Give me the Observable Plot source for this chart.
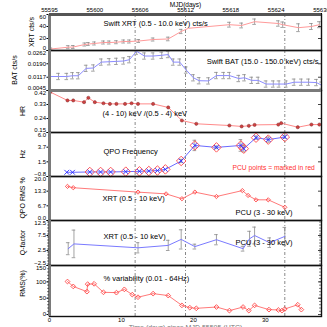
<!DOCTYPE html>
<html><head><meta charset="utf-8">
<script src="https://cdn.jsdelivr.net/npm/d3@7"></script>
<script src="https://cdn.jsdelivr.net/npm/@observablehq/plot@0.6"></script>
<style>
html,body{margin:0;padding:0;background:#fff;overflow:hidden}
#chart{position:relative;width:327px;height:327px;overflow:hidden}
#chart svg{position:absolute;left:0;overflow:visible}
</style></head><body><div id="chart"></div>
<script>
const FONT = "'Liberation Sans', Arial, Helvetica, sans-serif";
// ---- axes ----
const xDomain = [0, 37.8];
const mjdTickDays = [0, 6.3, 12.6, 18.9, 25.2, 31.5, 37.8];
const mjdTickLabels = ["55595","55600","55606","55612","55618","55624","55630"];
const dayTicks = [0, 10, 20, 30];
const markerDays = [11.9, 18.9, 32.7];

// ---- panel 1: Swift XRT count rate ----
const xrtDays = [0.2, 2.6, 3.3, 4.9, 5.4, 6.25, 7.5, 8.3, 9.3, 10.3, 11.1, 12.4, 14.4, 16.5, 18.3, 19.3, 25.0, 26.7, 28.5, 31.8, 32.4, 34.6, 36.4, 37.5];
const xrtVals = [2.5, 5.5, 5.8, 10, 10.8, 11.7, 13.3, 13.3, 13.8, 15, 15, 15.8, 18.3, 19.2, 31.7, 37, 43, 41.7, 48, 45, 43, 38, 40, 43];
const xrtErr  = [1.5, 2.5, 2.5, 2.5, 2.5, 2.5, 2.5, 2.5, 2.5, 2.5, 2.5, 2.5, 2.5, 3, 3.5, 0, 4, 4, 4.5, 4.5, 4.5, 6.5, 5, 5];

// ---- panel 2: Swift BAT count rate ----
const batDays = [0.2, 1.25, 2.4, 3.2, 4.0, 5.1, 6.1, 7.2, 8.3, 9.3, 10.3, 11.1, 12.1, 13.2, 14.4, 15.6, 16.5, 17.2, 18.1, 19.0, 20.0, 20.8, 22.1, 23.2, 24.2, 25.0, 26.3, 27.1, 28.1, 29.0, 30.1, 31.1, 31.9, 32.9, 34.0, 35.0, 36.0, 37.1, 37.8];
const batVals = [0.0121, 0.0121, 0.0121, 0.0125, 0.0125, 0.0165, 0.0167, 0.0199, 0.0201, 0.0203, 0.0205, 0.0212, 0.0258, 0.0232, 0.0232, 0.0236, 0.0240, 0.0199, 0.0199, 0.0156, 0.0114, 0.0098, 0.0097, 0.0126, 0.0126, 0.0126, 0.0110, 0.0114, 0.0100, 0.0100, 0.0080, 0.0080, 0.0080, 0.0080, 0.0090, 0.0090, 0.0090, 0.0088, 0.0074];
const batErr  = [0, 0.0017, 0.0017, 0.0017, 0.0017, 0.0017, 0.0017, 0.0017, 0.0017, 0.0017, 0.0017, 0.0017, 0.0017, 0.0017, 0.0017, 0.0017, 0.0017, 0.0017, 0.0017, 0.0017, 0.0017, 0.0017, 0.0017, 0.0017, 0.0017, 0.0017, 0.0017, 0.0017, 0.0017, 0.0017, 0.0017, 0.0017, 0.0017, 0.0017, 0.0017, 0.0017, 0.0017, 0.0017, 0.0017];

// ---- panel 3: hardness ratio ----
const hrDays = [0.1, 2.5, 3.3, 4.8, 5.4, 6.3, 7.5, 8.4, 9.3, 10.5, 11.4, 12.3, 14.4, 16.5, 18.4, 20.4, 25.0, 26.7, 27.7, 28.5, 31.8, 32.2, 34.5, 36.4, 37.5];
const hrVals = [0.41, 0.356, 0.356, 0.345, 0.373, 0.345, 0.338, 0.334, 0.334, 0.334, 0.338, 0.334, 0.334, 0.311, 0.227, 0.206, 0.195, 0.189, 0.193, 0.199, 0.201, 0.210, 0.184, 0.201, 0.201];

// ---- panel 4: QPO frequency ----
const hzDays = [2.4, 3.2, 5.6, 7.1, 8.5, 10.6, 12.5, 13.8, 15.0, 16.1, 18.3, 20.2, 23.2, 26.6, 27.0, 28.7, 30.4, 32.7];
const hzVals = [-0.15, -0.15, -0.1, -0.1, -0.1, -0.05, 0.0, 0.05, 0.12, 0.3, 1.6, 4.0, 3.7, 4.0, 3.5, 5.2, 4.9, 5.3];
const hzErr  = [0.05, 0.05, 0.05, 0.05, 0.05, 0.05, 0.05, 0.05, 0.08, 0.1, 0.25, 0.8, 0.2, 0.9, 0.5, 0.25, 0.4, 0.2];
const hzInstrument = ["XRT","XRT","PCU","PCU","PCU","PCU","PCU","PCU","PCU","PCU","PCU","PCU","PCU","PCU","PCU","PCU","PCU","PCU"];

// ---- panel 5: QPO rms % ----
const qpoDays = [2.5, 3.3, 12.3, 16.2, 18.4, 20.2, 23.2, 26.8, 27.6, 28.7, 30.4, 32.7];
const qpoVals = [15.5, 14.9, 12.9, 12.1, 9.9, 12.9, 10.9, 13.6, 11.4, 9.4, 9.4, 6.0];

// ---- panel 6: Q-factor ----
const qDays = [2.6, 3.4, 12.3, 16.5, 18.3, 20.2, 23.2, 26.9, 27.8, 28.5, 30.6, 32.7];
const qVals = [3.1, 4.7, 3.4, 4.2, 6.2, 3.8, 6.1, 3.1, 6.4, 7.5, 5.1, 7.2];
const qErr  = [2.0, 4.6, 1.7, 1.7, 3.2, 0.8, 1.7, 0.8, 2.5, 2.8, 1.6, 3.0];

// ---- panel 7: total rms % variability ----
const rmsDays = [2.5, 3.3, 5.2, 5.3, 6.2, 7.5, 9.3, 10.4, 11.5, 12.3, 14.4, 16.5, 18.4, 19.5, 20.4, 23.2, 25.0, 26.9, 27.7, 28.5, 30.5, 31.8, 32.3, 32.7, 34.5, 35.0];
const rmsVals = [101, 86, 70, 93, 94, 68, 67, 77, 61, 53, 64, 58, 28, 21, 19, 23, 12, 23, 12, 28, 15, 14, 12, 17, 30, 15];

// ---- labels ----
const panelTitles = ["XRT cts/s", "BAT cts/s", "HR", "Hz", "QPO RMS %", "Q-factor", "RMS(%)"];

const chart = document.getElementById("chart");
const rows = (days, vals, errs, extra) => days.map((d, i) => ({d, v: vals[i], e: errs ? errs[i] : 0, s: extra ? extra[i] : null}));
const frameW = 327 - 49 - 6;

function errorBars(data, color, cap = 0.25, w = 0.8) {
  const f = data.filter(r => r.e > 0);
  return [
    Plot.ruleX(f, {x: "d", y1: r => r.v - r.e, y2: r => r.v + r.e, stroke: color, strokeWidth: w, clip: true}),
    Plot.ruleY(f, {y: r => r.v + r.e, x1: r => r.d - cap, x2: r => r.d + cap, stroke: color, strokeWidth: w, clip: true}),
    Plot.ruleY(f, {y: r => r.v - r.e, x1: r => r.d - cap, x2: r => r.d + cap, stroke: color, strokeWidth: w, clip: true})
  ];
}
function note(str, anchor, dx, dy, opts = {}) {
  return Plot.text([str], Object.assign({text: d => d, frameAnchor: anchor, dx, dy, lineAnchor: "middle",
    textAnchor: anchor.endsWith("right") ? "end" : "start", fontSize: 7.5, fontFamily: FONT, fill: "#000"}, opts));
}

function panel({top, bottom, mt = 0, mb = 0, yDomain, yTicks, yFormat, title, titleX, titleDy = 0, marks, xOpts, minor, topRule}) {
  const h = bottom - top;
  const lo = Math.min(...yDomain), hi = Math.max(...yDomain);
  const tickLabel = (data, dy) => Plot.text(data, {y: d => d, text: d => yFormat(d), frameAnchor: "left", textAnchor: "end",
    lineAnchor: "middle", dx: -3.5, dy, fontSize: 6, fontFamily: FONT, fill: "#000"});
  const m = [
    Plot.ruleX(markerDays, {stroke: "#555", strokeWidth: 0.7, strokeDasharray: "3,2,1,2"}),
    ...marks,
    Plot.frame({stroke: "#111", strokeWidth: 1.4}),
    Plot.ruleY(yTicks, {insetLeft: frameW - 3, stroke: "#111", strokeWidth: 0.8}),
    Plot.ruleX([xDomain[0]], {stroke: "#7a7a7a", strokeWidth: 3}),
    tickLabel(yTicks.filter(t => t === hi), 2.2),
    tickLabel(yTicks.filter(t => t === lo), -2.2),
    tickLabel(yTicks.filter(t => t !== hi && t !== lo), 0)
  ];
  if (minor) {
    m.push(Plot.ruleY(minor, {insetRight: frameW - 2, dx: -2, stroke: "#222", strokeWidth: 0.6}));
    m.push(Plot.ruleY(minor, {insetLeft: frameW - 2, stroke: "#222", strokeWidth: 0.6}));
  }
  if (topRule) m.push(Plot.ruleY([hi], {stroke: topRule, strokeWidth: 3}));
  const svg = Plot.plot({
    width: 327, height: h + mt + mb, marginTop: mt, marginBottom: mb, marginLeft: 49, marginRight: 6,
    style: {fontSize: "6px", fontFamily: FONT, background: "transparent", overflow: "visible", color: "#000"},
    x: Object.assign({domain: xDomain, axis: null}, xOpts || {}),
    y: {domain: yDomain, ticks: yTicks, tickFormat: () => "", tickSize: 2.5, tickPadding: 0, label: null},
    marks: m
  });
  svg.style.top = (top - mt) + "px";
  d3.select(svg).append("text")
    .attr("transform", `translate(${titleX},${mt + h / 2 + titleDy}) rotate(-90)`)
    .attr("text-anchor", "middle").attr("dy", "0.35em")
    .attr("font-size", 7).attr("font-family", FONT).attr("fill", "#000")
    .text(title);
  chart.appendChild(svg);
}

const mjdMap = new Map(mjdTickDays.map((d, i) => [d, mjdTickLabels[i]]));

// Panel 1
const xrtRows = rows(xrtDays, xrtVals, xrtErr);
panel({top: 14, bottom: 50, mt: 14, yDomain: [0, 60], yTicks: [0, 20, 40, 60], yFormat: d3.format("d"),
  title: panelTitles[0], titleX: 32, topRule: "#555",
  xOpts: {axis: "top", ticks: mjdTickDays, tickFormat: d => mjdMap.get(d), tickSize: 2, tickPadding: 1, label: null},
  marks: [
    ...errorBars(xrtRows, "#8a8a8a"),
    Plot.line(xrtRows, {x: "d", y: "v", stroke: "#ff9a9a", strokeWidth: 1, clip: true}),
    note("Swift XRT (0.5 - 10.0 keV) cts/s", "top-left", 54, 9.5),
    Plot.text(["MJD(days)"], {text: d => d, frameAnchor: "top", lineAnchor: "middle", dy: -10, fontSize: 6.5, fontFamily: FONT, fill: "#000"})
  ]});

// Panel 2
const batRows = rows(batDays, batVals, batErr);
panel({top: 50, bottom: 90, yDomain: [0.0045, 0.0262], yTicks: [0.0045, 0.0117, 0.0190, 0.0262], yFormat: d3.format(".4f"),
  title: panelTitles[1], titleX: 15,
  marks: [
    ...errorBars(batRows, "#8a8a8a"),
    Plot.line(batRows, {x: "d", y: "v", stroke: "#8c8cff", strokeWidth: 1, clip: true}),
    note("Swift BAT (15.0 - 150.0 keV) cts/s", "top-right", -3, 11)
  ]});

// Panel 3
const hrRows = rows(hrDays, hrVals);
panel({top: 90, bottom: 132, yDomain: [0.15, 0.42], yTicks: [0.15, 0.24, 0.33, 0.42], yFormat: d3.format(".2f"),
  title: panelTitles[2], titleX: 23, topRule: "#7a7a7a",
  marks: [
    Plot.line(hrRows, {x: "d", y: "v", stroke: "#ff8a8a", strokeWidth: 1, clip: true}),
    Plot.dot(hrRows, {x: "d", y: "v", r: 1.6, fill: "#d04040", stroke: "#803030", strokeWidth: 0.5}),
    note("(4 - 10) keV /(0.5 - 4) keV", "top-left", 53, 23)
  ]});

// Panel 4
const hzRows = rows(hzDays, hzVals, hzErr, hzInstrument);
panel({top: 132, bottom: 176, yDomain: [-0.8, 6.0], yTicks: [-0.8, 1.4667, 3.7333, 6.0], yFormat: d3.format(".1f"),
  title: panelTitles[3], titleX: 23,
  marks: [
    ...errorBars(hzRows.filter(r => r.e > 0.15), "#8a8a8a"),
    Plot.line(hzRows, {x: "d", y: "v", stroke: "#6a6aff", strokeWidth: 1}),
    Plot.dot(hzRows.filter(r => r.s === "PCU"), {x: "d", y: "v", symbol: "square", r: 3.8, rotate: 45, stroke: "#ff5050", fill: "none", strokeWidth: 0.9}),
    Plot.dot(hzRows, {x: "d", y: "v", symbol: "times", r: 2.3, stroke: "#2a2aff", strokeWidth: 0.9}),
    note("QPO Frequency", "top-left", 54, 19),
    note("PCU points = marked in red", "top-left", 183, 35, {fill: "#ff3030", fontSize: 6.7})
  ]});

// Panel 5
const qpoRows = rows(qpoDays, qpoVals);
panel({top: 176, bottom: 220, yDomain: [0, 20], yTicks: [0, 6.6667, 13.3333, 20], yFormat: d3.format(".1f"),
  title: panelTitles[4], titleX: 23,
  marks: [
    Plot.line(qpoRows, {x: "d", y: "v", stroke: "#ff7a7a", strokeWidth: 1}),
    Plot.dot(qpoRows, {x: "d", y: "v", symbol: "square", r: 1.7, rotate: 45, stroke: "#ff4040", fill: "none", strokeWidth: 0.8}),
    note("XRT (0.5 - 10 keV)", "top-left", 53, 22),
    note("PCU (3 - 30 keV)", "top-left", 186, 36)
  ]});

// Panel 6
const qRows = rows(qDays, qVals, qErr);
panel({top: 220, bottom: 265, yDomain: [-2.5, 12.5], yTicks: [-2.5, 2.5, 7.5, 12.5], yFormat: d3.format(".1f"),
  title: panelTitles[5], titleX: 23, minor: d3.range(-2, 12.5, 1),
  marks: [
    ...errorBars(qRows, "#8a8a8a"),
    Plot.line(qRows, {x: "d", y: "v", stroke: "#7a7aff", strokeWidth: 1}),
    note("XRT (0.5 - 10 keV)", "top-left", 54, 16),
    note("PCU (3 - 30 keV)", "top-left", 186, 22)
  ]});

// Panel 7
const rmsRows = rows(rmsDays, rmsVals);
panel({top: 265, bottom: 316, mb: 14, yDomain: [-6, 150], yTicks: [0, 50, 100, 150], yFormat: d3.format("d"),
  title: panelTitles[6], titleX: 23, titleDy: -7, minor: d3.range(10, 150, 10),
  xOpts: {axis: "bottom", ticks: dayTicks, tickSize: 1, tickPadding: 0.5, label: null},
  marks: [
    Plot.line(rmsRows, {x: "d", y: "v", stroke: "#ff7a7a", strokeWidth: 1}),
    Plot.dot(rmsRows, {x: "d", y: "v", symbol: "square", r: 1.9, rotate: 45, stroke: "#ff4040", fill: "none", strokeWidth: 0.8}),
    note("% variability (0.01 - 64Hz)", "top-left", 54, 13),
    Plot.text(["Time (days) since MJD 55595 (UTC)"], {text: d => d, frameAnchor: "bottom", lineAnchor: "top", dy: 9, fontSize: 7, fontFamily: FONT, fill: "#777"})
  ]});
</script></body></html>
